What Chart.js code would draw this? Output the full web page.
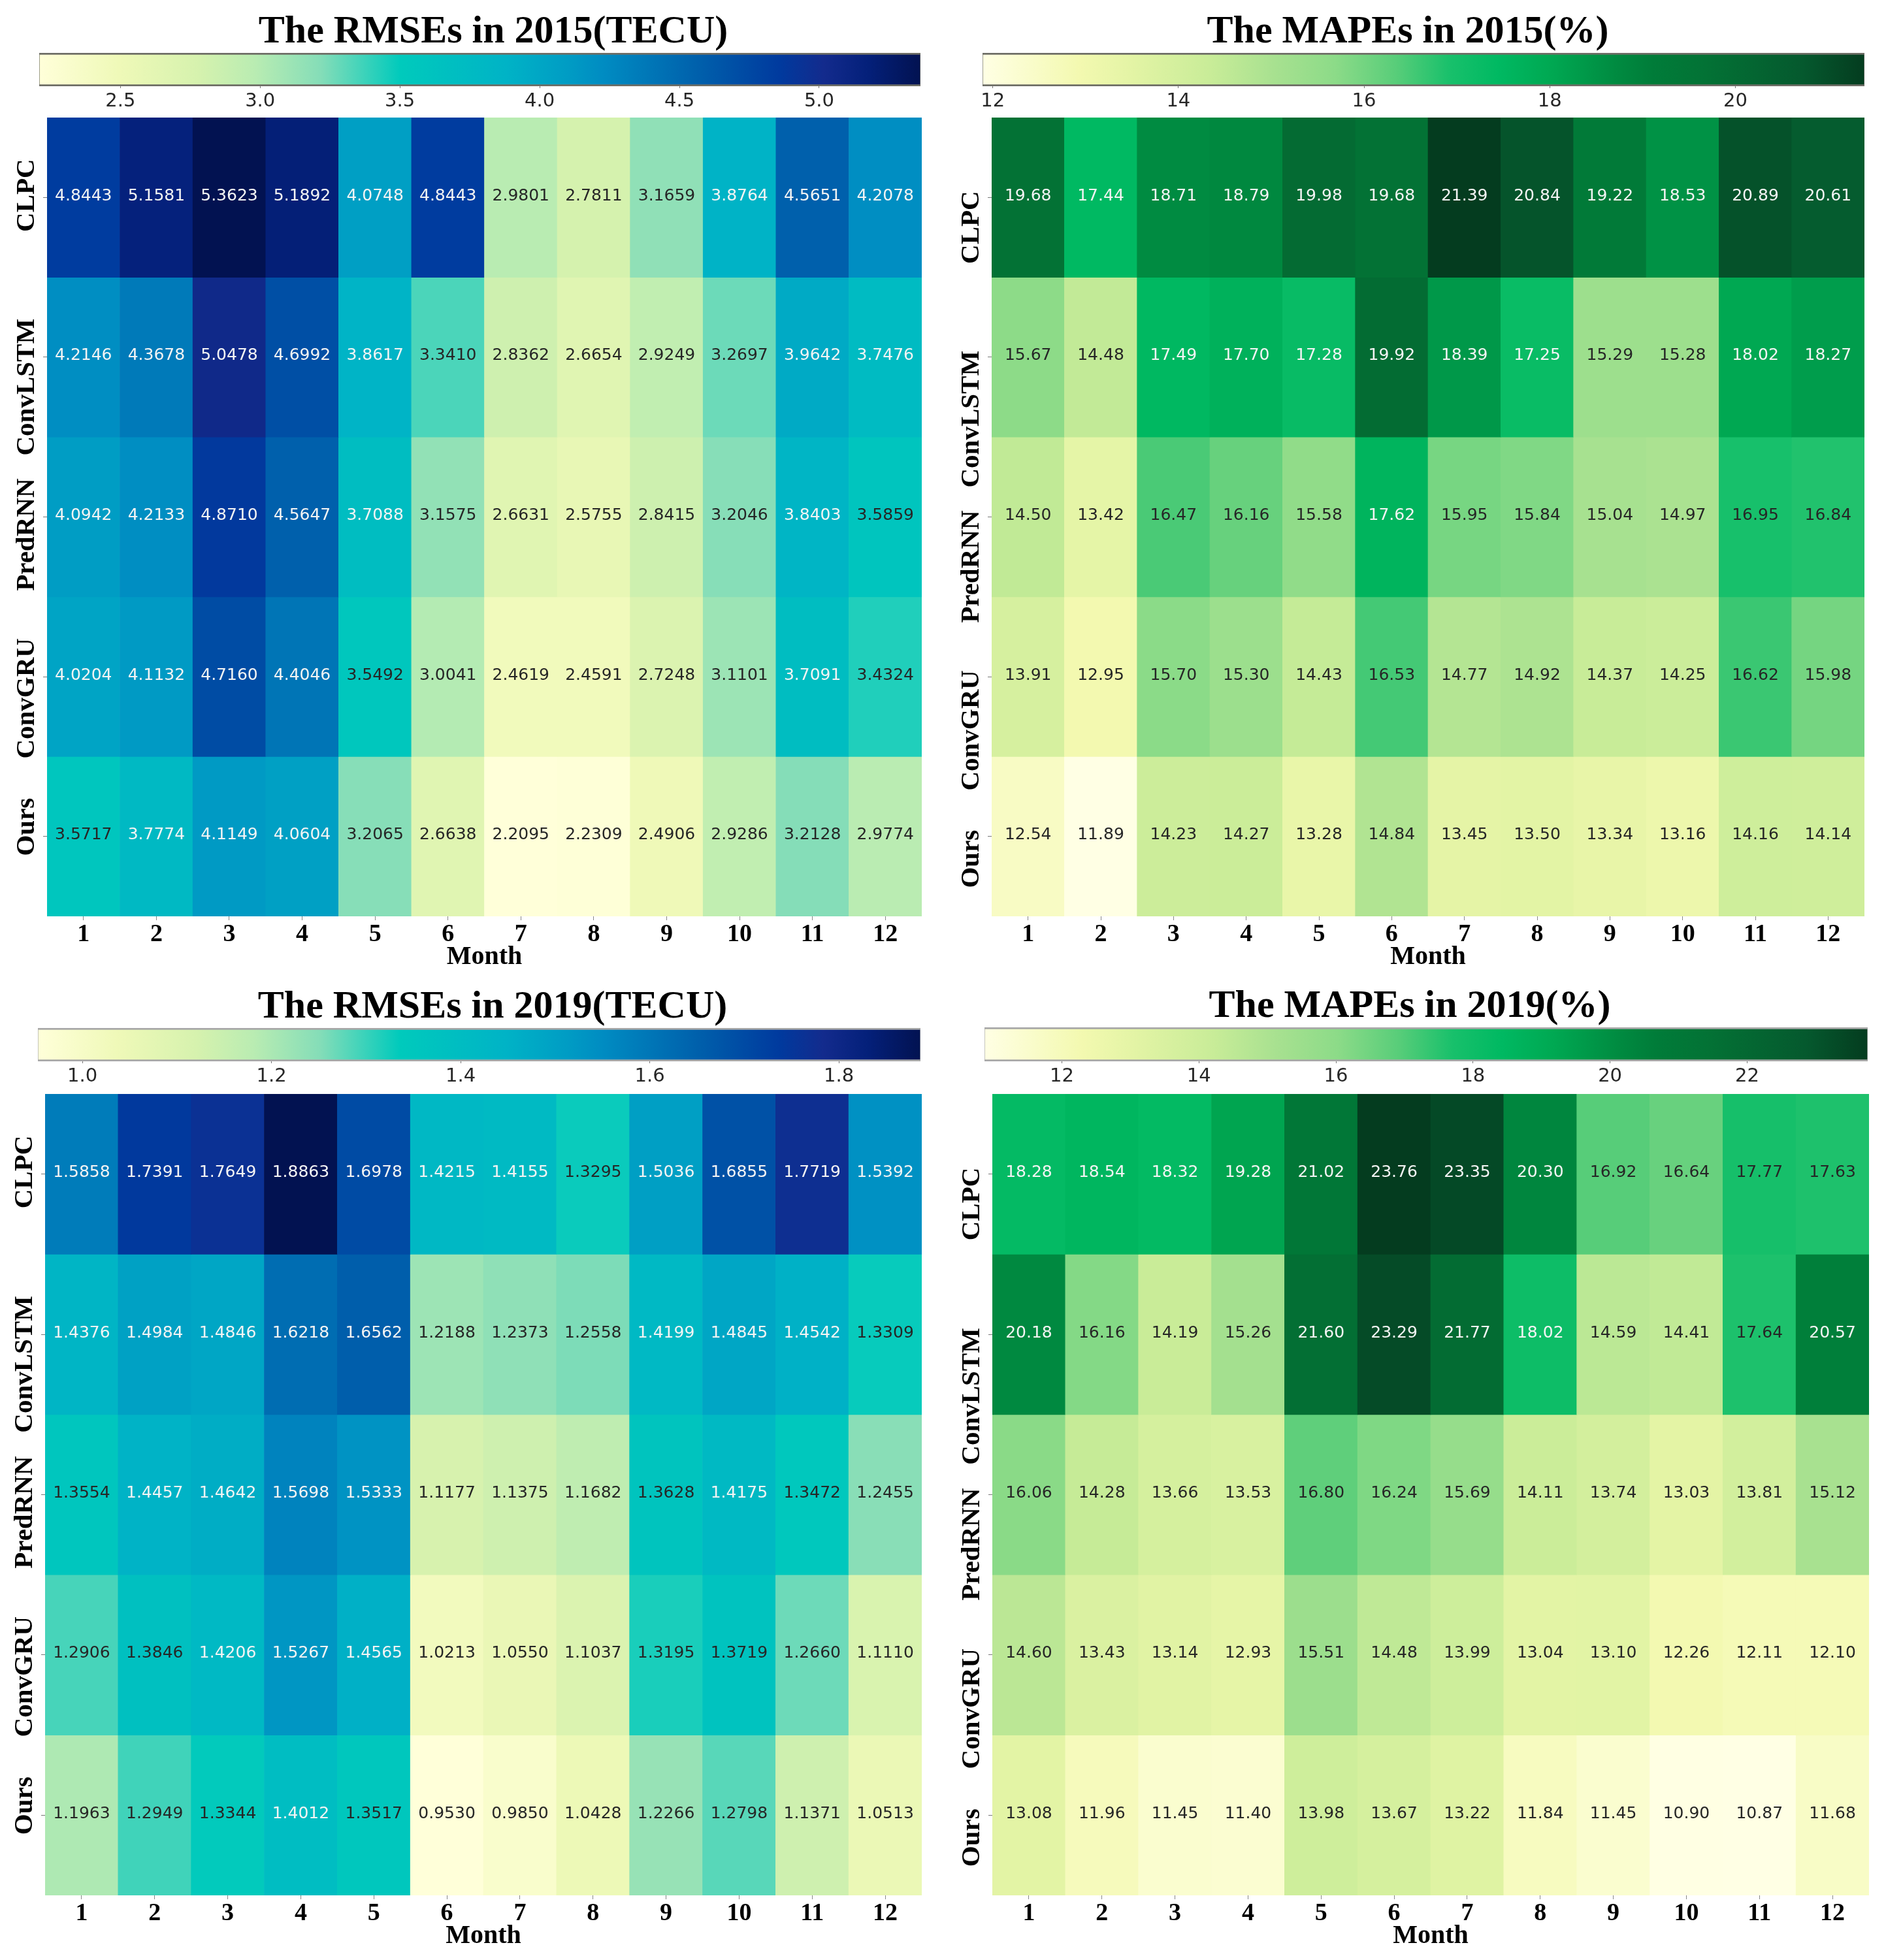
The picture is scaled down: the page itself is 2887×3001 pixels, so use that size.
<!DOCTYPE html>
<html>
<head>
<meta charset="utf-8">
<title>RMSE and MAPE heatmaps</title>
<script src="https://cdn.jsdelivr.net/npm/chart.js@4"></script>
<style>
html, body { margin: 0; padding: 0; background: #fff; width: 2887px; height: 3001px; overflow: hidden; }
canvas { position: absolute; }
</style>
</head>
<body>
<script>
const months = ['1', '2', '3', '4', '5', '6', '7', '8', '9', '10', '11', '12'];
const models = ['CLPC', 'ConvLSTM', 'PredRNN', 'ConvGRU', 'Ours'];

const rmse2015 = [
    [4.8443, 5.1581, 5.3623, 5.1892, 4.0748, 4.8443, 2.9801, 2.7811, 3.1659, 3.8764, 4.5651, 4.2078],
    [4.2146, 4.3678, 5.0478, 4.6992, 3.8617, 3.3410, 2.8362, 2.6654, 2.9249, 3.2697, 3.9642, 3.7476],
    [4.0942, 4.2133, 4.8710, 4.5647, 3.7088, 3.1575, 2.6631, 2.5755, 2.8415, 3.2046, 3.8403, 3.5859],
    [4.0204, 4.1132, 4.7160, 4.4046, 3.5492, 3.0041, 2.4619, 2.4591, 2.7248, 3.1101, 3.7091, 3.4324],
    [3.5717, 3.7774, 4.1149, 4.0604, 3.2065, 2.6638, 2.2095, 2.2309, 2.4906, 2.9286, 3.2128, 2.9774]
];
const mape2015 = [
    [19.68, 17.44, 18.71, 18.79, 19.98, 19.68, 21.39, 20.84, 19.22, 18.53, 20.89, 20.61],
    [15.67, 14.48, 17.49, 17.70, 17.28, 19.92, 18.39, 17.25, 15.29, 15.28, 18.02, 18.27],
    [14.50, 13.42, 16.47, 16.16, 15.58, 17.62, 15.95, 15.84, 15.04, 14.97, 16.95, 16.84],
    [13.91, 12.95, 15.70, 15.30, 14.43, 16.53, 14.77, 14.92, 14.37, 14.25, 16.62, 15.98],
    [12.54, 11.89, 14.23, 14.27, 13.28, 14.84, 13.45, 13.50, 13.34, 13.16, 14.16, 14.14]
];
const rmse2019 = [
    [1.5858, 1.7391, 1.7649, 1.8863, 1.6978, 1.4215, 1.4155, 1.3295, 1.5036, 1.6855, 1.7719, 1.5392],
    [1.4376, 1.4984, 1.4846, 1.6218, 1.6562, 1.2188, 1.2373, 1.2558, 1.4199, 1.4845, 1.4542, 1.3309],
    [1.3554, 1.4457, 1.4642, 1.5698, 1.5333, 1.1177, 1.1375, 1.1682, 1.3628, 1.4175, 1.3472, 1.2455],
    [1.2906, 1.3846, 1.4206, 1.5267, 1.4565, 1.0213, 1.0550, 1.1037, 1.3195, 1.3719, 1.2660, 1.1110],
    [1.1963, 1.2949, 1.3344, 1.4012, 1.3517, 0.9530, 0.9850, 1.0428, 1.2266, 1.2798, 1.1371, 1.0513]
];
const mape2019 = [
    [18.28, 18.54, 18.32, 19.28, 21.02, 23.76, 23.35, 20.30, 16.92, 16.64, 17.77, 17.63],
    [20.18, 16.16, 14.19, 15.26, 21.60, 23.29, 21.77, 18.02, 14.59, 14.41, 17.64, 20.57],
    [16.06, 14.28, 13.66, 13.53, 16.80, 16.24, 15.69, 14.11, 13.74, 13.03, 13.81, 15.12],
    [14.60, 13.43, 13.14, 12.93, 15.51, 14.48, 13.99, 13.04, 13.10, 12.26, 12.11, 12.10],
    [13.08, 11.96, 11.45, 11.40, 13.98, 13.67, 13.22, 11.84, 11.45, 10.90, 10.87, 11.68]
];

const rmse2015Ticks = [2.5, 3.0, 3.5, 4.0, 4.5, 5.0];
const mape2015Ticks = [12, 14, 16, 18, 20];
const rmse2019Ticks = [1.0, 1.2, 1.4, 1.6, 1.8];
const mape2019Ticks = [12, 14, 16, 18, 20, 22];

// colour maps as [position, colour]
const blueMap = [
    [0, '#ffffd9'], [0.09, '#eff9b8'], [0.18, '#d6f2ae'], [0.245, '#b9ecb2'], [0.32, '#84ddb8'],
    [0.41, '#00cabc'], [0.53, '#00b3c6'], [0.6, '#009cc4'], [0.64, '#008cc2'], [0.75, '#005fab'],
    [0.84, '#003a9e'], [0.89, '#132b8d'], [0.94, '#04207a'], [1, '#021251']
];
const greenMap = [
    [0, '#ffffe4'], [0.11, '#f3f9b0'], [0.17, '#e3f4a5'], [0.26, '#c8ec98'], [0.33, '#a8e190'],
    [0.4, '#8cdb88'], [0.47, '#57cd79'], [0.53, '#18c06b'], [0.585, '#00b962'], [0.645, '#00a852'],
    [0.72, '#008a40'], [0.76, '#007c39'], [0.82, '#037235'], [0.93, '#05592e'], [1, '#043c1f']
];

const panels = [
    { title: 'The RMSEs in 2015(TECU)', values: rmse2015, ticks: rmse2015Ticks, digits: 4, tickDigits: 1, map: blueMap, whiteFrom: 0.47,
      heat: [72, 180, 1411, 1403], bar: [60, 81, 1409, 132], titleX: 755, barEdge: '#6e6e66', labelShift: -59 },
    { title: 'The MAPEs in 2015(%)', values: mape2015, ticks: mape2015Ticks, digits: 2, tickDigits: 0, map: greenMap, whiteFrom: 0.55,
      heat: [1518, 180, 2854, 1403], bar: [1504, 81, 2854, 132], titleX: 2155, barEdge: '#6e6e66', labelShift: -10 },
    { title: 'The RMSEs in 2019(TECU)', values: rmse2019, ticks: rmse2019Ticks, digits: 4, tickDigits: 1, map: blueMap, whiteFrom: 0.47,
      heat: [69, 1675, 1411, 2902], bar: [58, 1574, 1409, 1625], titleX: 754, barEdge: '#a8a8a8', labelShift: -59 },
    { title: 'The MAPEs in 2019(%)', values: mape2019, ticks: mape2019Ticks, digits: 2, tickDigits: 0, map: greenMap, whiteFrom: 0.55,
      heat: [1519, 1675, 2861, 2902], bar: [1507, 1573, 2859, 1625], titleX: 2158, barEdge: '#a8a8a8', labelShift: -10 }
];

const SERIF = '"Liberation Serif", serif';
const SANS = '"DejaVu Sans", sans-serif';

function hexToRgb(hex) {
    return [1, 3, 5].map(i => parseInt(hex.slice(i, i + 2), 16));
}

function colorAt(map, t) {
    for (let i = 1; i < map.length; i++) {
        if (t <= map[i][0]) {
            const k = (t - map[i - 1][0]) / (map[i][0] - map[i - 1][0]);
            const a = hexToRgb(map[i - 1][1]);
            const b = hexToRgb(map[i][1]);
            return `rgb(${a.map((v, j) => Math.round(v + (b[j] - v) * k)).join(',')})`;
        }
    }
    return map[map.length - 1][1];
}

function addCanvas(left, top, width, height) {
    const canvas = document.createElement('canvas');
    canvas.width = width;
    canvas.height = height;
    canvas.style.left = left + 'px';
    canvas.style.top = top + 'px';
    canvas.style.width = width + 'px';
    canvas.style.height = height + 'px';
    document.body.appendChild(canvas);
    return canvas;
}

function fixScale(scale, size, padLeft, padRight) {
    if (scale.isHorizontal()) {
        scale.height = size;
    } else {
        scale.width = size;
    }
    scale.paddingLeft = padLeft || 0;
    scale.paddingRight = padRight || 0;
    scale.paddingTop = scale.paddingBottom = 0;
}

// writes each cell's value in the middle of its bar
const cellText = {
    id: 'cellText',
    afterDatasetsDraw(chart, args, opts) {
        const ctx = chart.ctx;
        ctx.save();
        ctx.font = '25px ' + SANS;
        ctx.textAlign = 'center';
        ctx.textBaseline = 'middle';
        chart.data.datasets.forEach((ds, r) => {
            const rowY = chart.scales.y.getPixelForValue(r) - 2;
            chart.getDatasetMeta(r).data.forEach((bar, c) => {
                const t = (ds.values[c] - opts.vmin) / (opts.vmax - opts.vmin);
                ctx.fillStyle = t >= opts.whiteFrom ? '#f4f4f4' : '#262626';
                ctx.fillText(ds.values[c].toFixed(opts.digits), bar.x, rowY);
            });
        });
        ctx.restore();
    }
};

function drawHeatmap(p, vmin, vmax) {
    const axisWidth = 66;
    const axisHeight = 87;
    const [x0, y0, x1, y1] = p.heat;
    const canvas = addCanvas(x0 - axisWidth, y0, x1 - x0 + axisWidth, y1 - y0 + axisHeight);
    new Chart(canvas.getContext('2d'), {
        type: 'bar',
        data: {
            labels: months,
            datasets: models.map((name, r) => ({
                label: name,
                values: p.values[r],
                data: p.values[r].map(() => [r - 0.5, r + 0.5]),
                backgroundColor: p.values[r].map(v => colorAt(p.map, (v - vmin) / (vmax - vmin))),
                borderWidth: 0
            }))
        },
        options: {
            responsive: false,
            animation: false,
            devicePixelRatio: 1,
            layout: { padding: 0 },
            datasets: { bar: { grouped: false, barPercentage: 1, categoryPercentage: 1 } },
            plugins: {
                legend: { display: false },
                tooltip: { enabled: false },
                title: { display: false },
                cellText: { vmin: vmin, vmax: vmax, digits: p.digits, whiteFrom: p.whiteFrom }
            },
            scales: {
                x: {
                    type: 'category',
                    offset: true,
                    border: { display: false },
                    grid: { drawOnChartArea: false, offset: false, tickLength: 6, color: '#888888' },
                    ticks: {
                        autoSkip: false, maxRotation: 0, padding: 3, color: '#000',
                        font: { family: SERIF, size: 38, weight: 'bold', lineHeight: 1 }
                    },
                    title: {
                        display: true, text: 'Month', color: '#000', padding: 0,
                        font: { family: SERIF, size: 40, weight: 'bold', lineHeight: 1.2 }
                    },
                    afterFit: s => fixScale(s, axisHeight)
                },
                y: {
                    type: 'linear',
                    min: -0.5,
                    max: 4.5,
                    reverse: true,
                    border: { display: false },
                    grid: { drawOnChartArea: false, tickLength: 6, color: '#777777' },
                    afterBuildTicks: s => { s.ticks = models.map((m, i) => ({ value: i })); },
                    ticks: {
                        autoSkip: false, minRotation: 90, maxRotation: 90, padding: 25, labelOffset: p.labelShift,
                        color: '#000',
                        font: { family: SERIF, size: 41, weight: 'bold', lineHeight: 1 },
                        callback: v => models[v]
                    },
                    afterFit: s => fixScale(s, axisWidth)
                }
            }
        },
        plugins: [cellText]
    });
}

function drawColorBar(p, vmin, vmax) {
    const [x0, y0, x1, y1] = p.bar;
    const titleBlock = 81;
    const axisHeight = 50;
    const half = Math.max(p.titleX - x0, x1 - p.titleX) + 25;
    const left = p.titleX - half;
    const canvas = addCanvas(left, y0 - titleBlock, half * 2, titleBlock + (y1 - y0) + axisHeight);
    new Chart(canvas.getContext('2d'), {
        type: 'bar',
        data: {
            labels: ['bar'],
            datasets: [{
                data: [[vmin, vmax]],
                borderWidth: { top: 3, bottom: 3, left: 1, right: 1 },
                borderColor: p.barEdge,
                borderSkipped: false,
                backgroundColor: function(c) {
                    const area = c.chart.chartArea;
                    if (!area) return '#fff';
                    const g = c.chart.ctx.createLinearGradient(area.left, 0, area.right, 0);
                    p.map.forEach(s => g.addColorStop(s[0], s[1]));
                    return g;
                }
            }]
        },
        options: {
            indexAxis: 'y',
            responsive: false,
            animation: false,
            devicePixelRatio: 1,
            layout: { padding: 0 },
            datasets: { bar: { barPercentage: 1, categoryPercentage: 1 } },
            plugins: {
                legend: { display: false },
                tooltip: { enabled: false },
                title: {
                    display: true, text: p.title, color: '#000',
                    padding: { top: 19, bottom: 2 },
                    font: { family: SERIF, size: 60, weight: 'bold', lineHeight: 1 }
                }
            },
            scales: {
                x: {
                    type: 'linear',
                    min: vmin,
                    max: vmax,
                    border: { display: false },
                    grid: { drawOnChartArea: false, tickLength: 3, color: '#777' },
                    afterBuildTicks: s => { s.ticks = p.ticks.map(v => ({ value: v })); },
                    ticks: {
                        autoSkip: false, maxRotation: 0, padding: 6, color: '#262626',
                        font: { family: SANS, size: 29, lineHeight: 1 },
                        callback: v => v.toFixed(p.tickDigits)
                    },
                    // side padding here keeps the title centred on the whole canvas
                    afterFit: s => fixScale(s, axisHeight, x0 - left, left + half * 2 - x1)
                },
                y: { display: false }
            }
        }
    });
}

panels.forEach(function(p) {
    const all = p.values.flat();
    const vmin = Math.min(...all);
    const vmax = Math.max(...all);
    drawHeatmap(p, vmin, vmax);
    drawColorBar(p, vmin, vmax);
});
</script>
</body>
</html>
